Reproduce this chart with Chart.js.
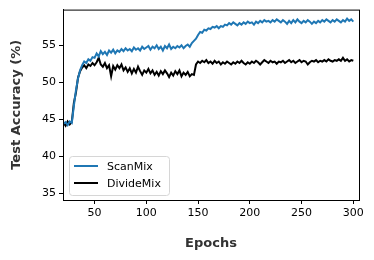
<!DOCTYPE html>
<html>
<head>
<meta charset="utf-8">
<script src="https://cdn.jsdelivr.net/npm/chart.js@4.4.1/dist/chart.umd.min.js"></script>
<style>
  html, body { margin: 0; padding: 0; background: #fff; }
  #wrap { width: 374px; height: 260px; }
</style>
</head>
<body>
<div id="wrap"><canvas id="accChart" width="374" height="260"></canvas></div>
<script>
// ---------- Data (every 2 epochs) ----------
const epochs = [
  20, 22, 24, 26, 28, 30, 32, 34, 36, 38, 40, 42, 44, 46, 48, 50, 52, 54, 56, 58,
  60, 62, 64, 66, 68, 70, 72, 74, 76, 78, 80, 82, 84, 86, 88, 90, 92, 94, 96, 98,
  100, 102, 104, 106, 108, 110, 112, 114, 116, 118, 120, 122, 124, 126, 128, 130, 132, 134, 136, 138,
  140, 142, 144, 146, 148, 150, 152, 154, 156, 158, 160, 162, 164, 166, 168, 170, 172, 174, 176, 178,
  180, 182, 184, 186, 188, 190, 192, 194, 196, 198, 200, 202, 204, 206, 208, 210, 212, 214, 216, 218,
  220, 222, 224, 226, 228, 230, 232, 234, 236, 238, 240, 242, 244, 246, 248, 250, 252, 254, 256, 258,
  260, 262, 264, 266, 268, 270, 272, 274, 276, 278, 280, 282, 284, 286, 288, 290, 292, 294, 296, 298,
  300
];

const scanMix = [
  44.4, 44.6, 44.2, 44.7, 44.5, 46.8, 48.9, 50.5, 51.6, 52.3, 52.8, 52.6, 53.1, 52.9, 53.4, 53.3, 53.9, 53.5, 54.2, 53.8,
  54.1, 53.7, 54.3, 54.0, 54.4, 53.9, 54.3, 54.1, 54.5, 54.2, 54.6, 54.3, 54.5, 54.2, 54.7, 54.4, 54.6, 54.3, 54.8, 54.5,
  54.7, 54.9, 54.4, 54.8, 54.6, 55.0, 54.5, 54.8, 54.3, 54.9, 54.6, 55.1, 54.5, 54.8, 54.6, 54.9, 54.7, 55.0, 54.6, 54.9,
  55.1, 54.8, 55.3, 55.6, 55.9, 56.4, 56.8, 56.7, 57.1, 57.0, 57.3, 57.2, 57.5, 57.4, 57.6, 57.3, 57.6, 57.5, 57.8, 57.7,
  58.0, 57.8, 58.1, 57.9, 57.7, 58.0, 57.8, 58.1, 57.9, 58.2, 58.0, 58.1, 57.8, 58.2, 58.0, 58.3, 58.1, 58.4, 58.2, 58.3,
  58.1, 58.4, 58.2, 58.5, 58.3, 58.1, 58.4, 58.2, 57.9, 58.3, 58.0, 58.4, 58.1, 58.5, 58.2, 58.0, 58.3, 58.1, 58.4, 58.2,
  57.9, 58.2, 58.0, 58.3, 58.1, 58.4, 58.2, 58.5, 58.3, 58.1, 58.4, 58.2, 58.5, 58.3, 58.1, 58.4, 58.2, 58.6, 58.3, 58.5,
  58.2
];

const divideMix = [
  44.5, 44.1, 44.7, 44.3, 44.6, 47.2, 48.6, 50.6, 51.5, 52.0, 52.3, 51.9, 52.4, 52.2, 52.6, 52.3, 52.7, 53.3, 52.4, 52.1,
  52.6, 51.9, 52.3, 50.8, 52.2, 51.7, 52.3, 51.9, 52.4, 51.6, 52.0, 51.4, 51.9, 51.2, 51.8, 51.3, 52.1, 51.5, 51.0, 51.6,
  51.3, 51.8, 51.2, 51.6, 51.0, 51.4, 50.9, 51.5, 51.1, 51.6, 51.2, 50.7, 51.3, 50.9, 51.5, 51.1, 51.6, 50.8, 51.3, 51.0,
  51.4, 50.8, 51.1, 51.0, 52.4, 52.8, 52.6, 52.9, 52.7, 53.0, 52.6, 52.8, 52.5, 52.9, 52.6, 52.8, 52.4, 52.7, 52.5, 52.8,
  52.6, 52.4, 52.7, 52.5, 52.8, 52.6, 52.9, 52.6, 52.4, 52.7, 52.5, 52.8, 52.6, 52.9, 52.7, 52.4, 52.7, 53.0, 52.8, 52.6,
  52.9, 52.7, 52.8, 52.5, 52.8, 52.7, 52.9, 52.6, 52.8, 53.0, 52.7, 52.9, 52.6, 52.8, 53.0, 52.7, 52.9, 52.8, 52.4, 52.7,
  52.9, 52.8, 53.0, 52.7, 52.9, 52.8, 53.0, 52.8, 53.1, 52.9, 52.8, 53.0, 52.9, 53.1, 52.9, 53.3, 52.9, 53.1, 52.8, 53.0,
  52.9
];

const xTicks = [50, 100, 150, 200, 250, 300];
const yTicks = [35, 40, 45, 50, 55];

const FONT = "'DejaVu Sans', sans-serif";

// ---------- Frame + legend inside the plot ----------
const framePlugin = {
  id: "frame",
  afterDraw(chart) {
    const { ctx, chartArea: a } = chart;
    ctx.save();
    ctx.strokeStyle = "#000";
    ctx.lineWidth = 1;
    ctx.strokeRect(a.left + 0.5, a.top + 0.5, a.right - a.left, a.bottom - a.top);

    // legend box (lower left)
    const bx = a.left + 6, by = a.bottom - 44, bw = 100, bh = 39;
    ctx.fillStyle = "rgba(255,255,255,0.8)";
    ctx.strokeStyle = "#d6d6d6";
    ctx.beginPath();
    ctx.roundRect(bx + 0.5, by + 0.5, bw, bh, 3);
    ctx.fill();
    ctx.stroke();

    ctx.font = "11px " + FONT;
    ctx.textBaseline = "middle";
    chart.data.datasets.forEach((ds, i) => {
      const ly = by + 10 + i * 17;
      ctx.strokeStyle = ds.borderColor;
      ctx.lineWidth = 2;
      ctx.beginPath();
      ctx.moveTo(bx + 5, ly);
      ctx.lineTo(bx + 29, ly);
      ctx.stroke();
      ctx.fillStyle = "#000";
      ctx.fillText(ds.label, bx + 38, ly + 1);
    });
    ctx.restore();
  }
};

const ctx = document.getElementById("accChart").getContext("2d");

new Chart(ctx, {
  type: "line",
  data: {
    datasets: [
      {
        label: "ScanMix",
        data: epochs.map((e, i) => ({ x: e, y: scanMix[i] })),
        borderColor: "#1f77b4",
        borderWidth: 2,
        pointRadius: 0,
        tension: 0
      },
      {
        label: "DivideMix",
        data: epochs.map((e, i) => ({ x: e, y: divideMix[i] })),
        borderColor: "#000000",
        borderWidth: 2,
        pointRadius: 0,
        tension: 0
      }
    ]
  },
  options: {
    responsive: false,
    animation: false,
    layout: { padding: { top: 8, right: 15, left: 0, bottom: 0 } },
    plugins: {
      legend: { display: false },
      tooltip: { enabled: false }
    },
    scales: {
      x: {
        type: "linear",
        min: 19.5,
        max: 305.5,
        afterFit: (s) => { s.height = 60; },
        afterBuildTicks: (s) => { s.ticks = xTicks.map(v => ({ value: v })); },
        grid: { drawOnChartArea: false, tickLength: 4, color: "#000", tickColor: "#000" },
        border: { display: true, color: "#000" },
        ticks: { color: "#000", padding: 3, maxRotation: 0, font: { family: FONT, size: 11 } },
        title: {
          display: true,
          text: "Epochs",
          color: "#333",
          padding: { top: 0, bottom: 9 },
          font: { family: FONT, size: 13, weight: "bold" }
        }
      },
      y: {
        min: 34.06,
        max: 59.83,
        afterFit: (s) => { s.width = 63; },
        afterBuildTicks: (s) => { s.ticks = yTicks.map(v => ({ value: v })); },
        grid: { drawOnChartArea: false, tickLength: 4, color: "#000", tickColor: "#000" },
        border: { display: true, color: "#000" },
        ticks: { color: "#000", padding: 3, font: { family: FONT, size: 11 } },
        title: {
          display: true,
          text: "Test Accuracy (%)",
          color: "#333",
          padding: { top: 9, bottom: 0 },
          font: { family: FONT, size: 13, weight: "bold" }
        }
      }
    }
  },
  plugins: [framePlugin]
});
</script>
</body>
</html>
